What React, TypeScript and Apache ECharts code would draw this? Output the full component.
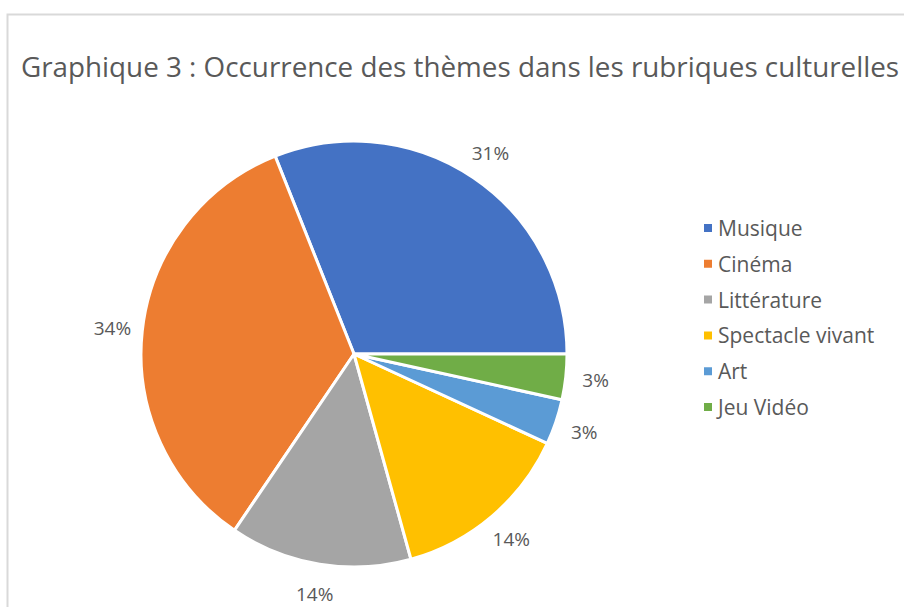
import React, { useEffect, useRef } from "react";
import * as echarts from "echarts";

const titleText = "Graphique 3 : Occurrence des thèmes dans les rubriques culturelles";
const categories = ["Musique", "Cinéma", "Littérature", "Spectacle vivant", "Art", "Jeu Vidéo"];
const values = [9, 10, 4, 4, 1, 1];
const colors = ["#4472C4", "#ED7D31", "#A5A5A5", "#FFC000", "#5B9BD5", "#70AD47"];

const FONT = "'Open Sans', 'Noto Sans', sans-serif";
const TEXT_COLOR = "#595959";

export default function App() {
  const ref = useRef<HTMLDivElement>(null);
  useEffect(() => {
    if (!ref.current) return;
    const chart = echarts.init(ref.current, undefined, { renderer: "svg" });
    const total = values.reduce((a, b) => a + b, 0);
    const data = categories.map((name, i) => ({
      name,
      value: values[i],
      itemStyle: { color: colors[i] },
    }));
    const pct = (p: any) => `${Math.round((p.value / total) * 100)}%`;
    chart.setOption({
      animation: false,
      backgroundColor: "#ffffff",
      title: {
        text: titleText,
        left: 16,
        top: 47,
        textStyle: { fontFamily: FONT, fontSize: 27.8, fontWeight: "normal", color: TEXT_COLOR },
      },
      legend: {
        orient: "vertical",
        left: 697,
        top: 212.5,
        icon: "rect",
        itemWidth: 10,
        itemHeight: 10,
        itemGap: 14.8,
        data: categories,
        textStyle: { fontFamily: FONT, fontSize: 21, color: TEXT_COLOR, padding: [0, 0, 0, 0] },
      },
      graphic: [
        {
          type: "rect",
          silent: true,
          shape: { x: 7.5, y: 14.5, width: 1200, height: 1200 },
          style: { fill: "none", stroke: "#D9D9D9", lineWidth: 2 },
        },
      ],
      series: [
        {
          type: "pie",
          center: [354, 354],
          radius: 213,
          startAngle: 0,
          clockwise: false,
          avoidLabelOverlap: false,
          data,
          itemStyle: { borderColor: "#ffffff", borderWidth: 3 },
          label: { show: false },
          labelLine: { show: false },
          emphasis: { disabled: true },
        },
        {
          type: "pie",
          center: [354, 354],
          radius: [229, 251],
          startAngle: 0,
          clockwise: false,
          avoidLabelOverlap: false,
          silent: true,
          data: categories.map((name, i) => ({ name, value: values[i] })),
          itemStyle: { color: "rgba(0,0,0,0)", borderWidth: 0 },
          label: {
            show: true,
            position: "inside",
            formatter: pct,
            fontFamily: FONT,
            fontSize: 19,
            color: TEXT_COLOR,
          },
          labelLine: { show: false },
          emphasis: { disabled: true },
        },
      ],
    });
    return () => chart.dispose();
  }, []);
  return (
    <div
      ref={ref}
      style={{ position: "absolute", left: 0, top: 0, width: 904, height: 607 }}
    />
  );
}
